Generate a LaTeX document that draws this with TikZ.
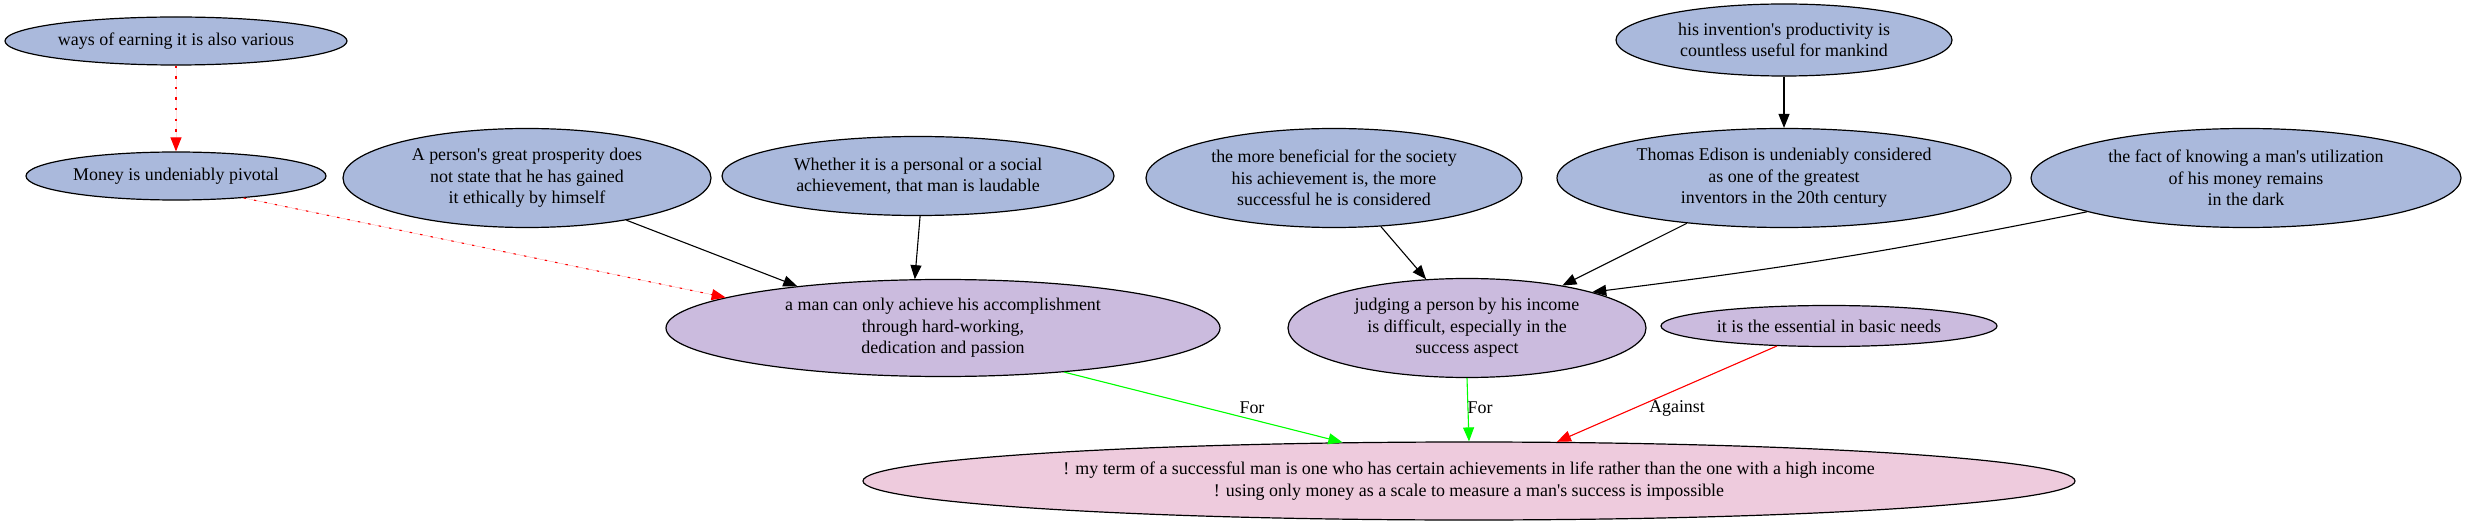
\documentclass[tikz,border=0pt]{standalone}
\usepackage{fontspec}
\setmainfont{Liberation Serif}
\usetikzlibrary{shapes.geometric,arrows.meta}
\definecolor{nblue}{RGB}{170,185,220}
\definecolor{npurple}{RGB}{203,187,222}
\definecolor{npink}{RGB}{238,203,221}
\definecolor{egreen}{RGB}{0,255,0}
\definecolor{ered}{RGB}{255,0,0}
\newcommand{\q}{\textquotesingle}
\begin{document}
\begin{tikzpicture}[x=1bp,y=-1bp,
  every node/.style={font=\fontsize{18}{21.5}\selectfont},
  bub/.style={ellipse, draw, line width=1.2bp, inner sep=0pt, align=center},
  pro/.style={bub, fill=nblue},
  mid/.style={bub, fill=npurple},
  root/.style={bub, fill=npink},
  conn/.style={line width=1.1bp, -{Triangle[length=14bp,width=11bp]}},
  dotconn/.style={conn, draw=ered, fill=ered, dash pattern=on 2.4bp off 8.2bp},
  lbl/.style={inner sep=0pt}]
\useasboundingbox (0,0) rectangle (2469,521);

\node[pro, minimum width=342bp, minimum height=48bp] (n1) at (176,41) {ways of earning it is also various};
\node[pro, minimum width=300bp, minimum height=48bp] (n2) at (176,176) {Money is undeniably pivotal};
\node[pro, minimum width=368bp, minimum height=99bp] (n3) at (527,178) {A person\q s great prosperity does\\not state that he has gained\\it ethically by himself};
\node[pro, minimum width=392bp, minimum height=79bp] (n4) at (918,176) {Whether it is a personal or a social\\achievement, that man is laudable};
\node[mid, minimum width=554bp, minimum height=97bp] (n5) at (943,328) {a man can only achieve his accomplishment\\through hard-working,\\dedication and passion};
\node[pro, minimum width=376bp, minimum height=99bp] (n6) at (1334,178) {the more beneficial for the society\\his achievement is, the more\\successful he is considered};
\node[pro, minimum width=336bp, minimum height=72bp] (n7) at (1784,40) {his invention\q s productivity is\\countless useful for mankind};
\node[pro, minimum width=454bp, minimum height=99bp] (n8) at (1784,178) {Thomas Edison is undeniably considered\\as one of the greatest\\inventors in the 20th century};
\node[pro, minimum width=430bp, minimum height=99bp] (n9) at (2246,178) {the fact of knowing a man\q s utilization\\of his money remains\\in the dark};
\node[mid, minimum width=358bp, minimum height=99bp] (n10) at (1467,328) {judging a person by his income\\is difficult, especially in the\\success aspect};
\node[mid, minimum width=336bp, minimum height=41bp] (n11) at (1829,326) {it is the essential in basic needs};
\node[root, minimum width=1212bp, minimum height=78bp] (n12) at (1469,481) {! my term of a successful man is one who has certain achievements in life rather than the one with a high income\\! using only money as a scale to measure a man\q s success is impossible};

\draw[dotconn] (n1.south) -- (n2.north);
\draw[dotconn] (n2.-18) -- (n5.172);
\draw[conn] (n3.-23) -- (n5.164);
\draw[conn] (n4.-87) -- (n5.120);
\draw[conn] (n6.-46) -- (n10.130);
\draw[conn] (n7.south) -- (n8.north);
\draw[conn] (n8.205) -- (n10.24);
\draw[conn] (n9.192) .. controls +(-200,40) and +(200,-25) .. (n10.16);
\draw[conn, draw=egreen, fill=egreen] (n5.-20) -- (n12.163);
\draw[conn, draw=egreen, fill=egreen] (n10.south) -- (n12.north);
\draw[conn, draw=ered, fill=ered] (n11.201) -- (n12.24);

\node[lbl] (l1) at (1252,408) {For};
\node[lbl] (l2) at (1480,408) {For};
\node[lbl] (l3) at (1677,408) {Against};
\end{tikzpicture}
\end{document}
